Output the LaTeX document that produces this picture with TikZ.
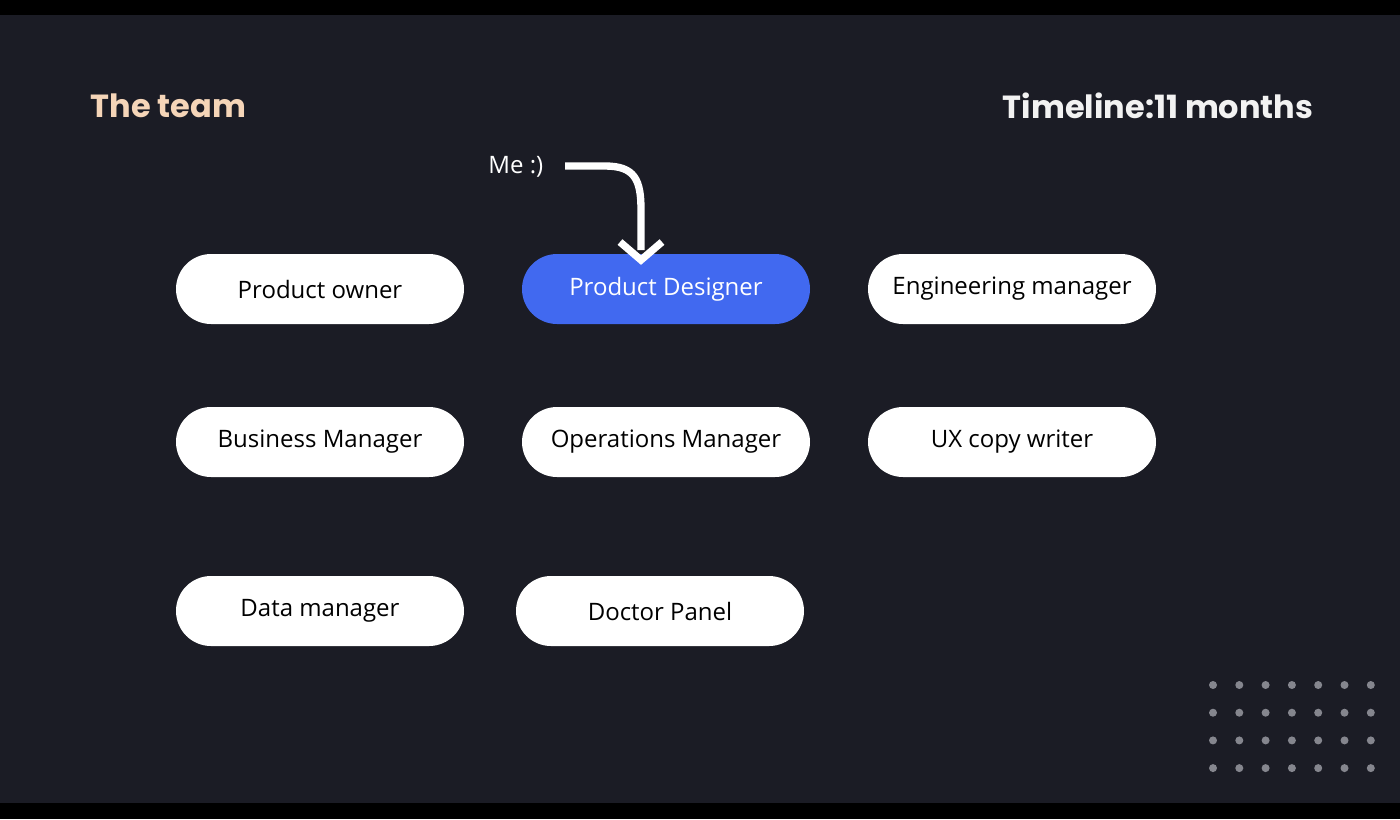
\documentclass[tikz,border=0pt]{standalone}
\usepackage{fontspec}
\setmainfont{Open Sans}
\newfontfamily\titlefont{Poppins}
\definecolor{bg}{HTML}{1B1C25}
\definecolor{peach}{HTML}{F5D5B8}
\definecolor{blu}{HTML}{4169F0}
\definecolor{dotc}{HTML}{85868E}
\begin{document}
\begin{tikzpicture}[x=0.75pt,y=-0.75pt,
  pill/.style={draw=none,fill=white,rounded corners=26.25pt,minimum width=216pt,minimum height=52.5pt,inner sep=0pt,font=\fontsize{18}{20}\selectfont,text=black},
  ttl/.style={font=\titlefont\bfseries\fontsize{24}{28}\selectfont,anchor=west}]
\useasboundingbox (0,0) rectangle (1400,819);
\fill[black] (0,0) rectangle (1400,819);
\fill[bg] (0,15) rectangle (1400,803);
\node[ttl,text=peach] (t1) at (86,106) {The team};
\node[ttl,text=white!90!gray,anchor=east] (t2) at (1318,106) {Timeline:11 months};
\node[pill] (po) at (320,289) {Product owner};
\node[pill,fill=blu,text=white] (pd) at (666,289) {Product Designer};
\node[pill] (em) at (1012,289) {Engineering manager};
\node[pill] (bm) at (320,442) {Business Manager};
\node[pill] (om) at (666,442) {Operations Manager};
\node[pill] (ux) at (1012,442) {UX copy writer};
\node[pill] (dm) at (320,611) {Data manager};
\node[pill] (dp) at (660,611) {Doctor Panel};
\node[text=white,font=\fontsize{18}{20}\selectfont,anchor=east] (me) at (548,167) {Me :)};
\coordinate (a0) at (565,166);
\coordinate (tip) at (641,260);
\draw[white,line width=5.5pt] (a0) -- (605,166) .. controls (635,166) and (641,180) .. (641,210) -- (641,250);
\draw[white,line width=5.5pt,line join=miter] (620,242) -- (tip) -- (662,242);
\foreach \i in {0,...,6}\foreach \j in {0,...,3}
  \fill[dotc] (1213+\i*26.3,685+\j*27.7) circle (3pt);
\end{tikzpicture}
\end{document}
